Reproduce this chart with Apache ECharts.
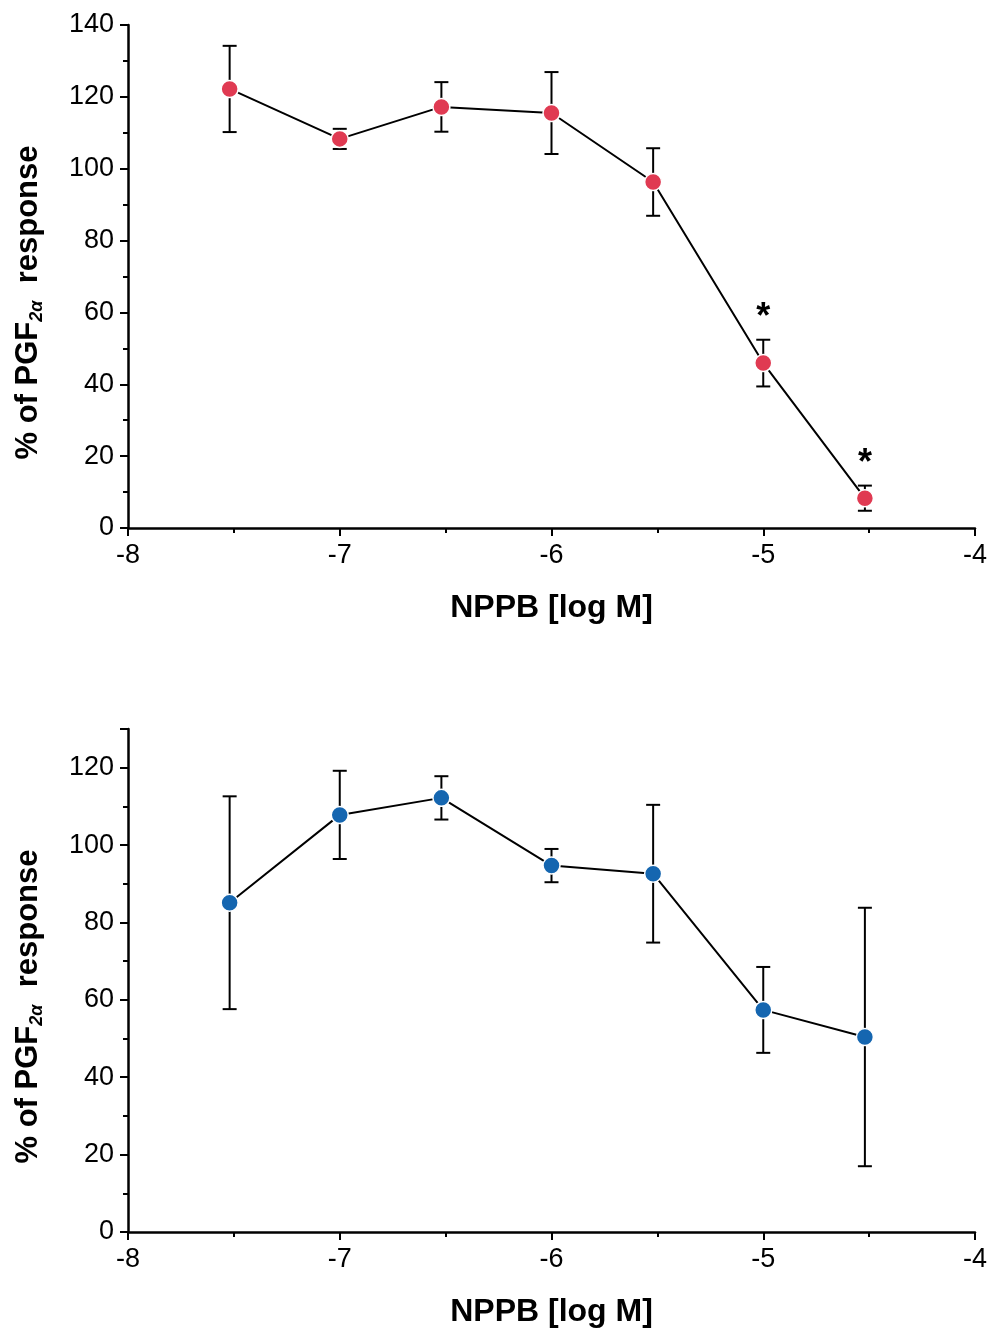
<!DOCTYPE html>
<html><head><meta charset="utf-8">
<script src="https://cdn.jsdelivr.net/npm/echarts@6/dist/echarts.min.js"></script>
<style>html,body{margin:0;padding:0;background:#fff}#c{width:992px;height:1331px}</style>
</head><body><div id="c"></div>
<script>
// log M concentrations
const xLog = [-7.52, -7, -6.52, -6, -5.52, -5, -4.52];
// top panel
const topMean = [122.2, 108.3, 117.2, 115.5, 96.3, 45.9, 8.3];
const topErr  = [12.0, 2.8, 6.9, 11.4, 9.4, 6.5, 3.5];
const topSig  = [false, false, false, false, false, true, true];
// bottom panel
const botMean = [85.1, 107.8, 112.2, 94.7, 92.6, 57.4, 50.4];
const botErr  = [27.5, 11.4, 5.6, 4.3, 17.8, 11.1, 33.4];
const botSig  = [false, false, false, false, false, false, false];
const xTicks = [-8, -7, -6, -5, -4];

const FONT = '"Liberation Sans", Arial, sans-serif';
const RED = '#e03a52', BLUE = '#1566b0';

function pts(m) { return xLog.map((x, i) => [x, m[i]]); }
function errData(m, e, s) { return xLog.map((x, i) => [x, m[i] - e[i], m[i] + e[i], s[i] ? 1 : 0]); }

function errSeries(idx, data) {
  return {
    type: 'custom', xAxisIndex: idx, yAxisIndex: idx, z: 2, silent: true,
    data: data,
    encode: { x: 0, y: [1, 2] },
    renderItem: function (params, api) {
      const x = api.value(0);
      const lo = api.coord([x, api.value(1)]);
      const hi = api.coord([x, api.value(2)]);
      const w = 7;
      const st = { stroke: '#000', lineWidth: 2 };
      const children = [
        { type: 'line', shape: { x1: lo[0], y1: lo[1], x2: hi[0], y2: hi[1] }, style: st },
        { type: 'line', shape: { x1: lo[0] - w, y1: lo[1], x2: lo[0] + w, y2: lo[1] }, style: st },
        { type: 'line', shape: { x1: hi[0] - w, y1: hi[1], x2: hi[0] + w, y2: hi[1] }, style: st }
      ];
      if (api.value(3) === 1) {
        children.push({ type: 'text', x: hi[0], y: hi[1] - 4,
          style: { text: '*', fontSize: 36, fontWeight: 'bold', fontFamily: FONT, fill: '#000', align: 'center', verticalAlign: 'bottom' } });
      }
      return { type: 'group', children: children };
    }
  };
}

function lineSeries(idx, data, color) {
  return {
    type: 'line', xAxisIndex: idx, yAxisIndex: idx, z: 3, data: data,
    symbol: 'circle', symbolSize: 17,
    lineStyle: { color: '#000', width: 2 },
    itemStyle: { color: color, borderColor: '#fff', borderWidth: 1.5 },
    animation: false
  };
}

const axisCommon = {
  axisLine: { show: true, onZero: false, lineStyle: { color: '#000', width: 2.5 } },
  axisTick: { show: true, inside: false, length: 8, lineStyle: { color: '#000', width: 2 } },
  minorTick: { show: true, splitNumber: 2, length: 5, lineStyle: { color: '#000', width: 2 } },
  splitLine: { show: false }
};

function xAx(idx) {
  return Object.assign({}, JSON.parse(JSON.stringify(axisCommon)), {
    type: 'value', gridIndex: idx, min: -8, max: -4, interval: 1,
    name: 'NPPB [log M]', nameLocation: 'middle', nameGap: 64,
    nameTextStyle: { color: '#000', fontSize: 32, fontWeight: 'bold', fontFamily: FONT },
    axisLabel: { color: '#000', fontSize: 27, fontFamily: FONT, margin: 14,
      formatter: v => (xTicks.indexOf(v) >= 0 ? String(v) : '') }
  });
}
function yAx(idx, max) {
  return Object.assign({}, JSON.parse(JSON.stringify(axisCommon)), {
    type: 'value', gridIndex: idx, min: 0, max: max, interval: 20,
    axisLabel: { color: '#000', fontSize: 27, fontFamily: FONT, margin: 14, showMaxLabel: max % 20 === 0 },
    name: '{b|% of PGF}{s|2α}{b|  response}', nameLocation: 'middle', nameRotate: 90, nameGap: 82,
    nameTextStyle: {
      color: '#000', fontFamily: FONT, padding: [0, 52, 0, 0],
      rich: {
        b: { fontSize: 31, fontWeight: 'bold', fontFamily: FONT, color: '#000', lineHeight: 36, verticalAlign: 'middle' },
        s: { fontSize: 18, fontWeight: 'bold', fontStyle: 'italic', fontFamily: FONT, color: '#000', lineHeight: 36, verticalAlign: 'bottom', padding: [15, 0, 0, 0] }
      }
    }
  });
}

const chart = echarts.init(document.getElementById('c'), null, { renderer: 'canvas' });
chart.setOption({
  backgroundColor: '#fff',
  animation: false,
  grid: [
    { left: 128, right: 17, top: 25, height: 503 },
    { left: 128, right: 17, top: 729, height: 503 }
  ],
  xAxis: [xAx(0), xAx(1)],
  yAxis: [yAx(0, 140), yAx(1, 130)],
  series: [
    errSeries(0, errData(topMean, topErr, topSig)),
    lineSeries(0, pts(topMean), RED),
    errSeries(1, errData(botMean, botErr, botSig)),
    lineSeries(1, pts(botMean), BLUE)
  ]
});
</script></body></html>
